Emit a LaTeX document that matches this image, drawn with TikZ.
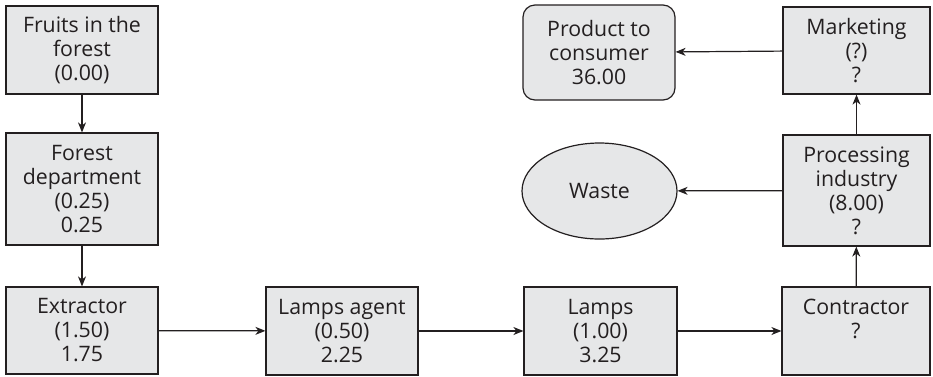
\documentclass[tikz,border=0pt]{standalone}
\usepackage{fontspec}
\setmainfont{Open Sans}
\usetikzlibrary{shapes.geometric,arrows.meta}
\definecolor{boxfill}{HTML}{E6E7E8}
\definecolor{ink}{HTML}{231F20}
\begin{document}
\begin{tikzpicture}[x=1pt,y=-1pt,
  every node/.style={font=\fontsize{21.3}{24}\selectfont, text=ink},
  box/.style={draw=ink, line width=1.2pt, fill=boxfill, rectangle, align=center, inner sep=0pt},
  rbox/.style={box, rounded corners=12pt},
  oval/.style={draw=ink, line width=1.2pt, fill=boxfill, ellipse, inner sep=0pt},
  arr/.style={draw=ink, line width=1.2pt, -{Stealth[length=10pt,width=8pt,inset=3pt]}},
]
\useasboundingbox (0,0) rectangle (933,376);
\node[box, minimum width=152pt, minimum height=88pt] (fruits) at (82,50) {Fruits in the\\forest\\(0.00)};
\node[box, minimum width=152pt, minimum height=112pt] (forest) at (82,189) {Forest\\department\\(0.25)\\0.25};
\node[box, minimum width=152pt, minimum height=87pt] (extractor) at (82,330.5) {Extractor\\(1.50)\\1.75};
\node[box, minimum width=152pt, minimum height=88pt] (agent) at (342,331) {Lamps agent\\(0.50)\\2.25};
\node[box, minimum width=153pt, minimum height=88pt] (lamps) at (600.5,331) {Lamps\\(1.00)\\3.25};
\node[box, minimum width=148pt, minimum height=88pt] (contractor) at (856,331) {Contractor\\?\\\mbox{}};
\node[box, minimum width=147pt, minimum height=111pt] (processing) at (856.5,190.5) {Processing\\industry\\(8.00)\\?};
\node[box, minimum width=147pt, minimum height=87pt] (marketing) at (856.5,50.5) {Marketing\\(?)\\?};
\node[rbox, minimum width=152pt, minimum height=95pt] (product) at (599,52.5) {Product to\\consumer\\36.00};
\node[oval, minimum width=155pt, minimum height=96pt] (waste) at (599.5,191) {Waste};
\draw[arr] (fruits) -- (forest);
\draw[arr] (forest) -- (extractor);
\draw[arr] (extractor) -- (agent);
\draw[arr] (agent) -- (lamps);
\draw[arr] (lamps) -- (contractor);
\draw[arr] (contractor) -- (processing);
\draw[arr] (processing) -- (marketing);
\draw[arr] (marketing) -- (product);
\draw[arr] (processing) -- (waste);
\end{tikzpicture}
\end{document}
